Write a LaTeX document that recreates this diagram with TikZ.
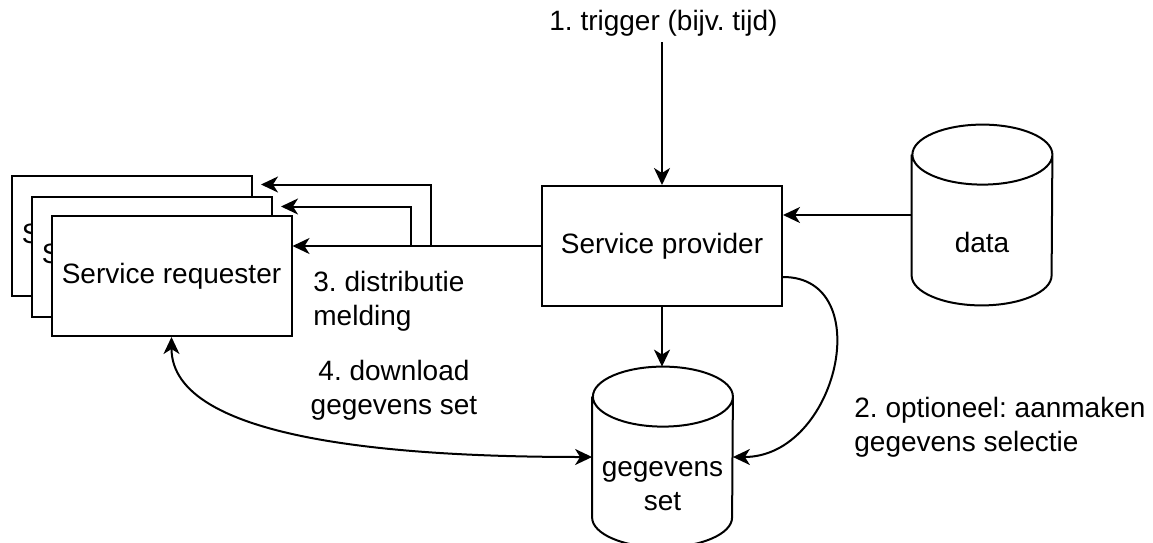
\documentclass[tikz,border=0pt]{standalone}
\usepackage{fontspec}
\setmainfont{Liberation Sans}
\usetikzlibrary{arrows.meta,calc}
\frenchspacing

\begin{document}
\begin{tikzpicture}[x=0.5pt,y=-0.5pt]
\tikzstyle{every node}=[font=\fontsize{14pt}{17pt}\selectfont,inner sep=3pt]
\tikzstyle{box}=[draw=black,line width=1pt,fill=white,minimum width=120pt,minimum height=60pt]
\tikzstyle{drum}=[minimum width=70pt,minimum height=90pt,inner sep=0pt]
\tikzstyle{arr}=[line width=1pt,-{Stealth[length=8.5pt,width=8pt,inset=2.5pt]}]
\tikzstyle{dbl}=[line width=1pt,{Stealth[length=8.5pt,width=8pt,inset=2.5pt]}-{Stealth[length=8.5pt,width=8pt,inset=2.5pt]}]
\useasboundingbox (0,0) rectangle (1153,542);

\node[box] (req3) at (131.5,236) {Service requester};
\node[box] (req2) at (151.5,256.5) {Service requester};
\node[box] (req1) at (171.5,276) {Service requester};
\node[box] (provider) at (662,246) {Service provider};
\node (trigger) at (663.5,23) {1. trigger (bijv. tijd)};
\node[drum] (data) at (982,215) {};
\node[drum] (gegevens) at (662.5,457) {};
\draw[line width=1pt] ($(data.north west)+(0,30)$) -- ($(data.south west)+(0,-30)$) arc[start angle=180,end angle=360,x radius=35pt,y radius=15pt] -- ($(data.north east)+(0,30)$) arc[start angle=0,end angle=180,x radius=35pt,y radius=15pt] arc[start angle=180,end angle=360,x radius=35pt,y radius=15pt];
\draw[line width=1pt] ($(gegevens.north west)+(0,30)$) -- ($(gegevens.south west)+(0,-30)$) arc[start angle=180,end angle=360,x radius=35pt,y radius=15pt] -- ($(gegevens.north east)+(0,30)$) arc[start angle=0,end angle=180,x radius=35pt,y radius=15pt] arc[start angle=180,end angle=360,x radius=35pt,y radius=15pt];
\node (datatxt) at ($(data.center)+(0,27)$) {data};
\node[align=center] (gegtxt) at ($(gegevens.center)+(0,29)$) {gegevens\\set};
\coordinate (tip3) at (261,184.5);
\coordinate (tip2) at (281,206.5);

\draw[arr] (trigger.south -| provider.north) -- (provider.north);
\draw[arr] (data.west) -- (data.west -| provider.east);
\draw[arr] (provider.south) -- (provider.south |- gegevens.north);
\draw[arr] (provider.west) -- (provider.west -| req1.east);
\draw[arr] (provider.west) -- ++(-110,0) |- (tip3);
\draw[arr] (provider.west) -- ++(-130,0) |- (tip2);
\draw[arr] ($(provider.south east)+(0,-30)$) .. controls +(95,0) and +(105,0) .. (gegevens.east);
\draw[dbl] (req1.south) .. controls +(0,104) and +(-192,0) .. (gegevens.west);

\node[anchor=west,align=left] (distlbl) at (307,301) {3. distributie\\melding};
\node[align=center] (dllbl) at (394,390) {4. download\\gegevens set};
\node[anchor=west,align=left] (optlbl) at (848,427) {2. optioneel: aanmaken\\gegevens selectie};
\end{tikzpicture}
\end{document}
